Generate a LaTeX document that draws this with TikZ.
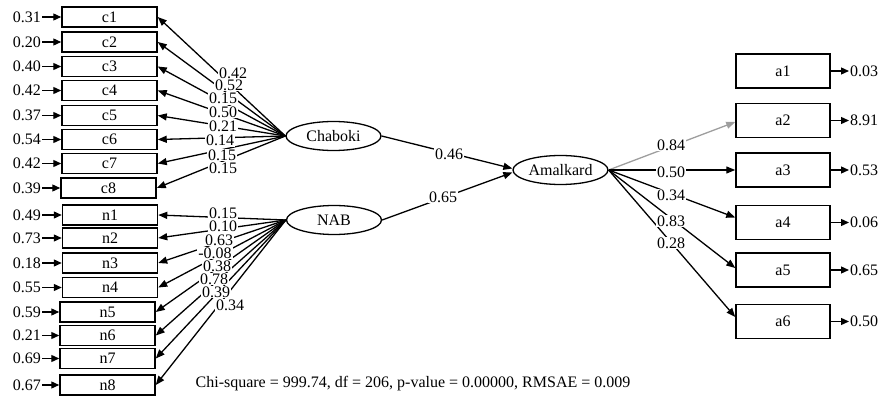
\documentclass[tikz,border=0pt]{standalone}
\usepackage{fontspec}
\setmainfont{Liberation Serif}
\usetikzlibrary{arrows.meta,shapes.geometric}
\begin{document}
\begin{tikzpicture}[x=1pt,y=-1pt,
  every node/.style={font=\fontsize{16}{18}\selectfont},
  box/.style={draw,line width=1.5pt,minimum width=95pt,minimum height=20pt,inner sep=0pt},
  abox/.style={draw,line width=1.5pt,minimum width=94pt,minimum height=34pt,inner sep=0pt},
  lat/.style={draw,ellipse,line width=1.3pt,minimum width=95pt,minimum height=29pt,inner sep=0pt},
  lab/.style={fill=white,inner xsep=1.2pt,inner ysep=0.6pt},
  res/.style={inner sep=1pt},
  conn/.style={line width=1.3pt,-{Triangle[length=9pt,width=7pt]}},
  rarr/.style={line width=1.3pt,-{Triangle[length=8pt,width=7pt]}}]
\useasboundingbox (0,0) rectangle (881,398);
% indicator boxes
\foreach \n/\x/\y/\r in {c1/109.5/17/0.31,c2/109.5/42/0.20,c3/109.5/66.5/0.40,c4/109.5/90.5/0.42,
  c5/109.5/115.5/0.37,c6/109.5/139.5/0.54,c7/109.5/163.5/0.42,c8/108.5/188/0.39,
  n1/110/215/0.49,n2/110/238/0.73,n3/110/263/0.18,n4/110/287.5/0.55,
  n5/107.5/312/0.59,n6/107.5/335.5/0.21,n7/107.5/358.5/0.69,n8/107.5/385/0.67}{
  \node[box] (\n) at (\x,\y) {\n};
  \node[res,anchor=east] (r\n) at (42,\y) {\r};
  \draw[rarr] (r\n.east) -- (\n.west);
}
% latent variables
\node[lat] (chab) at (333.5,136) {Chaboki};
\node[lat] (nab) at (334,220) {NAB};
\node[lat] (amal) at (560.5,170) {Amalkard};
% a boxes
\foreach \n/\y/\r in {a1/71/0.03,a2/120.5/8.91,a3/170/0.53,a4/222.5/0.06,a5/270/0.65,a6/321.5/0.50}{
  \node[abox] (\n) at (783,\y) {\n};
  \node[res,anchor=west] (r\n) at (849,\y) {\r};
  \draw[rarr] (\n.east) -- (r\n.west);
}
% loadings
\foreach \n in {c1,c2,c3,c4,c5,c6,c7,c8}{\draw[conn] (chab.west) -- (\n.east);}
\foreach \n in {n1,n2,n3,n4,n5,n6,n7,n8}{\draw[conn] (nab.west) -- (\n.east);}
\draw[conn] (chab.east) -- ([yshift=1.5pt]amal.west);
\draw[conn] (nab.east) -- ([yshift=-2.5pt]amal.west);
\draw[conn,draw=black!38,-{Triangle[length=9pt,width=7pt,fill=black!38]}] (amal.east) -- ([yshift=-1.5pt]a2.west);
\draw[conn] (amal.east) -- (a3.west);
\draw[conn] (amal.east) -- ([yshift=5pt]a4.west);
\draw[conn] (amal.east) -- ([yshift=2pt]a5.west);
\draw[conn] (amal.east) -- ([yshift=4.5pt]a6.west);
% labels
\foreach \t/\x/\y [count=\i] in {0.42/233/73,0.52/229/85,0.15/223/98.5,0.50/223/112,0.21/223/126,0.14/220/140.5,0.15/222/155,0.15/223/168.5}{
  \node[lab] (lc\i) at (\x,\y) {\t};}
\foreach \t/\x/\y [count=\i] in {0.15/223/213,0.10/223/226.5,0.63/219/240,-0.08/215/253,0.38/217/266,0.78/214/279,0.39/216/292,0.34/230/305}{
  \node[lab] (ln\i) at (\x,\y) {\t};}
\node[lab] (l46) at (449,154) {0.46};
\node[lab] (l65) at (443,197) {0.65};
\foreach \t/\y [count=\i] in {0.84/145,0.50/172,0.34/195,0.83/221,0.28/243}{
  \node[lab] (la\i) at (671,\y) {\t};}
\node (fit) at (413,384) {Chi-square = 999.74, df = 206, p-value = 0.00000, RMSAE = 0.009};
\end{tikzpicture}
\end{document}
